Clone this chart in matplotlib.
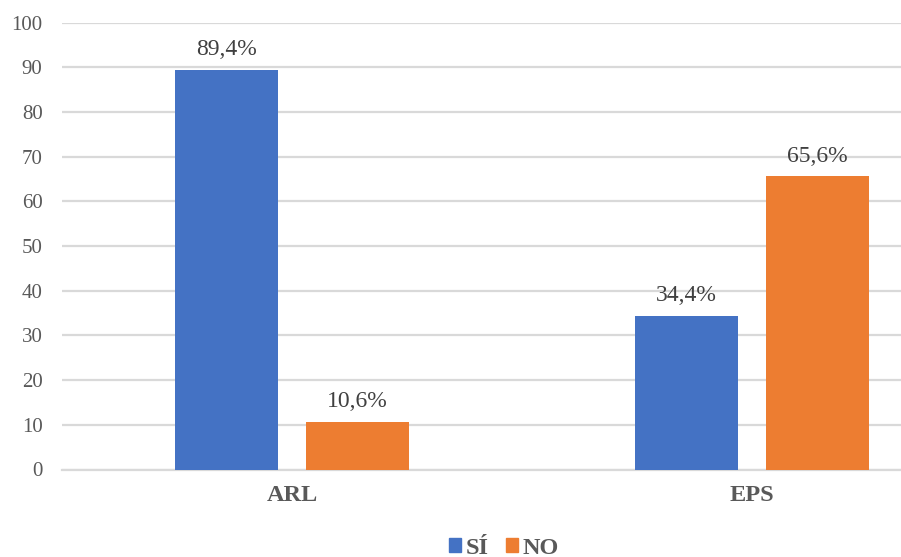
import numpy as np
import matplotlib
matplotlib.use("Agg")
import matplotlib.pyplot as plt
from matplotlib.patches import Patch

categories = ["ARL", "EPS"]
series_names = ["SÍ", "NO"]
si_values = [89.4, 34.4]
no_values = [10.6, 65.6]
y_ticks = [0, 10, 20, 30, 40, 50, 60, 70, 80, 90, 100]

BLUE = "#4472C4"
ORANGE = "#ED7D31"
TEXT = "#595959"
GRID = "#D9D9D9"

plt.rcParams['font.family'] = ['Liberation Serif', 'DejaVu Serif']

fig = plt.figure(figsize=(9.01, 5.57), dpi=100)
# the category axis runs past the right edge of the figure
ax = fig.add_axes([62 / 901, 87.5 / 557, 920 / 901, 447 / 557])

x = np.arange(len(categories))
width = 0.222
offset = 0.1424

bars_si = ax.bar(x - offset, si_values, width, color=BLUE, zorder=3)
bars_no = ax.bar(x + offset, no_values, width, color=ORANGE, zorder=3)

for bars, vals in [(bars_si, si_values), (bars_no, no_values)]:
    for b, v in zip(bars, vals):
        ax.annotate("{:.1f}%".format(v).replace(".", ","),
                    (b.get_x() + b.get_width() / 2, v),
                    xytext=(0, 7), textcoords="offset points",
                    ha="center", va="bottom", fontsize=17, color="#404040")

ax.set_xlim(-0.5, 1.5)
ax.set_ylim(0, 100)
ax.set_yticks(y_ticks)
ax.set_xticks(x)
ax.set_xticklabels(categories, fontweight="bold")
ax.tick_params(axis="y", length=0, pad=14, labelsize=15, labelcolor=TEXT)
ax.tick_params(axis="x", length=0, pad=11, labelsize=17.5, labelcolor=TEXT)
ax.yaxis.grid(True, color=GRID, linewidth=1.6, zorder=0)
ax.set_axisbelow(True)
for s in ["top", "right", "left"]:
    ax.spines[s].set_visible(False)
ax.spines["bottom"].set_color(GRID)
ax.spines["bottom"].set_linewidth(1.6)

handles = [Patch(color=BLUE, label=series_names[0]),
           Patch(color=ORANGE, label=series_names[1])]
leg = fig.legend(handles=handles, loc="center", bbox_to_anchor=(504 / 901, 9 / 557),
                 ncol=2, frameon=False, handlelength=0.5, handleheight=0.5,
                 handletextpad=0.2, columnspacing=0.7,
                 prop={"weight": "bold", "size": 17.5})
for t in leg.get_texts():
    t.set_color(TEXT)

fig.savefig("out.png", dpi=100)
